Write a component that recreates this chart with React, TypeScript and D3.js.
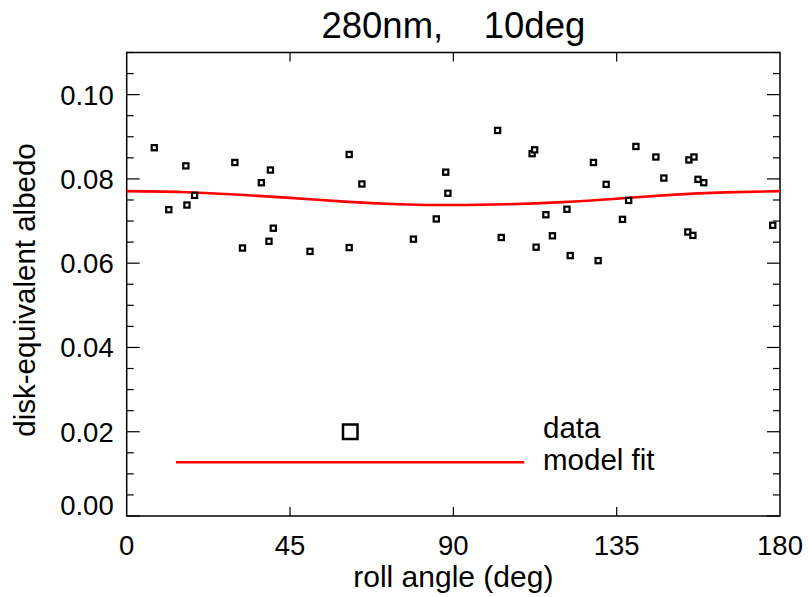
import { useRef, useEffect } from 'react';
import * as d3 from 'd3';

// measured points (roll angle in deg, disk-equivalent albedo)
const rollAngle = [
  7.6, 11.6, 16.3, 16.6, 18.7, 29.8, 31.9, 37.1, 39.6, 39.2, 40.4, 50.5,
  61.3, 61.3, 64.8, 79.0, 85.3, 87.9, 88.5, 102.2, 103.2, 111.7, 112.4,
  112.8, 115.5, 117.3, 121.3, 122.2, 128.6, 129.9, 132.1, 136.6, 138.3,
  140.3, 145.8, 148.0, 154.6, 154.9, 156.0, 156.3, 157.4, 159.0, 178.0,
];
const albedo = [
  0.0874, 0.0727, 0.0831, 0.0738, 0.0761, 0.0839, 0.0636, 0.0791, 0.0821, 0.0652, 0.0683, 0.0628,
  0.0858, 0.0637, 0.0788, 0.0657, 0.0705, 0.0816, 0.0766, 0.0915, 0.0661, 0.0860, 0.0869,
  0.0638, 0.0715, 0.0665, 0.0728, 0.0618, 0.0839, 0.0606, 0.0787, 0.0704, 0.0749,
  0.0877, 0.0852, 0.0802, 0.0674, 0.0845, 0.0666, 0.0852, 0.0799, 0.0791, 0.0690,
];

// model fit curve
const fitAngle = [0, 15, 30, 45, 60, 75, 90, 105, 120, 135, 150, 165, 180];
const fitAlbedo = [0.0771, 0.0769, 0.0763, 0.0755, 0.0746, 0.0740, 0.0738, 0.0740, 0.0745, 0.0753, 0.0762, 0.0768, 0.0771];

const xTicks = [0, 45, 90, 135, 180];
const yTicks = [0, 0.02, 0.04, 0.06, 0.08, 0.10];
const yMinor = d3.range(0, 0.1101, 0.005);

export default function App() {
  const svgRef = useRef<SVGSVGElement>(null);

  useEffect(() => {
    const w = 809, h = 597;
    const m = { t: 52.5, r: 29, b: 81, l: 126.7 };
    const font = '"Liberation Sans", Arial, Helvetica, sans-serif';

    const x = d3.scaleLinear().domain([0, 180]).range([m.l, w - m.r]);
    const y = d3.scaleLinear().domain([0, 0.11]).range([h - m.b, m.t]);

    const svg = d3.select(svgRef.current)
      .attr('width', w)
      .attr('height', h)
      .style('font-family', font);
    svg.selectAll('*').remove();

    svg.append('rect').attr('width', w).attr('height', h).attr('fill', '#fff');

    const x0 = x(0), x1 = x(180), y0 = y(0), y1 = y(0.11);

    // ticks, all four sides
    const ticks = svg.append('g').attr('stroke', '#000').attr('stroke-width', 1.2);
    xTicks.slice(1, -1).forEach(t => {
      ticks.append('line').attr('x1', x(t)).attr('x2', x(t)).attr('y1', y0).attr('y2', y0 - 9);
      ticks.append('line').attr('x1', x(t)).attr('x2', x(t)).attr('y1', y1).attr('y2', y1 + 9);
    });
    yMinor.forEach((t, i) => {
      const len = i % 4 === 0 ? 13 : 7;
      ticks.append('line').attr('x1', x0).attr('x2', x0 + len).attr('y1', y(t)).attr('y2', y(t));
      ticks.append('line').attr('x1', x1).attr('x2', x1 - len).attr('y1', y(t)).attr('y2', y(t));
    });

    // frame
    svg.append('rect')
      .attr('x', x0).attr('y', y1)
      .attr('width', x1 - x0).attr('height', y0 - y1)
      .attr('fill', 'none').attr('stroke', '#000').attr('stroke-width', 1.5);

    // tick labels
    svg.append('g')
      .selectAll('text')
      .data(xTicks)
      .join('text')
        .attr('x', d => x(d))
        .attr('y', y0 + 39)
        .attr('text-anchor', 'middle')
        .style('font-size', '27.5px')
        .text(d => d);

    svg.append('g')
      .selectAll('text')
      .data(yTicks)
      .join('text')
        .attr('x', x0 - 13)
        .attr('y', d => (d === 0 ? y(d) - 11 : y(d)))
        .attr('dy', '0.36em')
        .attr('text-anchor', 'end')
        .style('font-size', '27.5px')
        .text(d => d3.format('.2f')(d));

    // axis titles
    svg.append('text')
      .attr('x', (x0 + x1) / 2).attr('y', 586.5)
      .attr('text-anchor', 'middle')
      .style('font-size', '30px')
      .text('roll angle (deg)');

    svg.append('text')
      .attr('transform', 'translate(35,290) rotate(-90)')
      .attr('text-anchor', 'middle')
      .style('font-size', '29.5px')
      .text('disk-equivalent albedo');

    svg.append('text')
      .attr('x', (x0 + x1) / 2).attr('y', 37.5)
      .attr('text-anchor', 'middle')
      .attr('xml:space', 'preserve')
      .style('white-space', 'pre')
      .style('font-size', '36.5px')
      .text('280nm,    10deg');

    // model fit
    const fit = fitAngle.map((a, i) => [a, fitAlbedo[i]] as [number, number]);
    svg.append('path')
      .datum(fit)
      .attr('fill', 'none')
      .attr('stroke', '#ff0000')
      .attr('stroke-width', 2.6)
      .attr('d', d3.line<[number, number]>().x(d => x(d[0])).y(d => y(d[1])).curve(d3.curveNatural));

    // data squares
    const pts = rollAngle.map((a, i) => ({ a, v: albedo[i] }));
    svg.append('g')
      .selectAll('rect')
      .data(pts)
      .join('rect')
        .attr('x', d => x(d.a) - 2.6)
        .attr('y', d => y(d.v) - 2.6)
        .attr('width', 5.2).attr('height', 5.2)
        .attr('fill', '#fff')
        .attr('stroke', '#000')
        .attr('stroke-width', 2.2);

    // legend
    const lg = svg.append('g').style('font-size', '29.5px');
    lg.append('rect')
      .attr('x', 343).attr('y', 424.5)
      .attr('width', 14.5).attr('height', 14.5)
      .attr('fill', 'none').attr('stroke', '#000').attr('stroke-width', 2.5);
    lg.append('line')
      .attr('x1', 176).attr('x2', 524.3).attr('y1', 462.3).attr('y2', 462.3)
      .attr('stroke', '#ff0000').attr('stroke-width', 2.6);
    lg.append('text').attr('x', 543).attr('y', 437.5).text('data');
    lg.append('text').attr('x', 543).attr('y', 469.5).text('model fit');
  }, []);

  return (
    <svg
      ref={svgRef}
      style={{ position: 'absolute', left: 0, top: 0, display: 'block' }}
    />
  );
}
